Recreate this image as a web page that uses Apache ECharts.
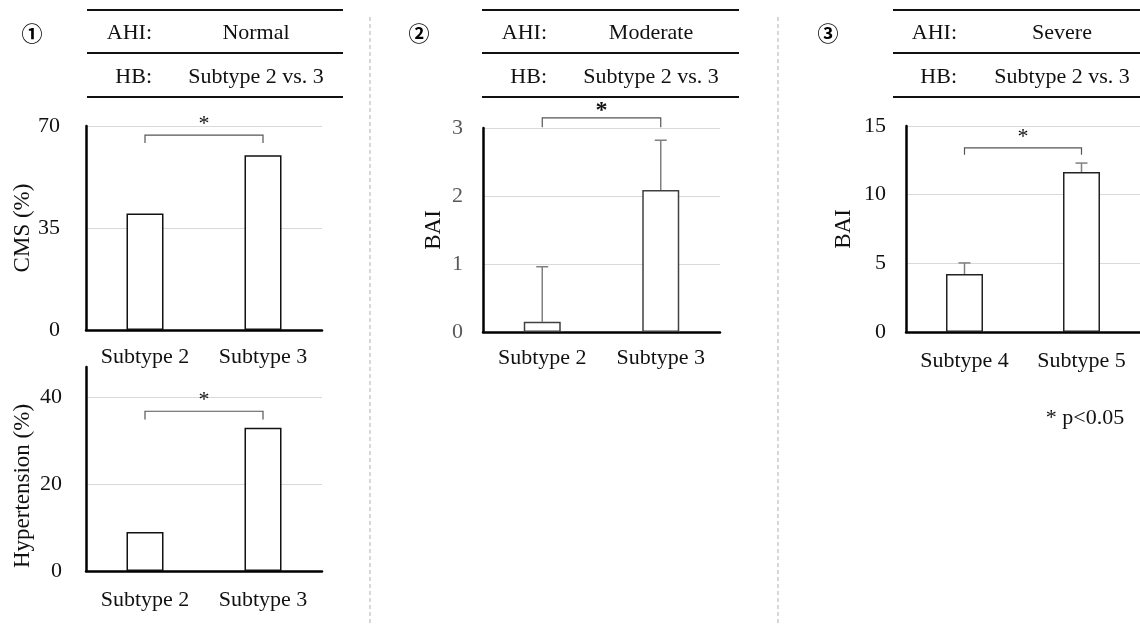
<!DOCTYPE html>
<html>
<head>
<meta charset="utf-8">
<script src="https://cdn.jsdelivr.net/npm/echarts@6/dist/echarts.min.js"></script>
<style>
html,body{margin:0;padding:0;background:#fff;}
#chart{width:1140px;height:626px;}
</style>
</head>
<body>
<div id="chart"></div>
<script>
// ---- data ----
const categoriesNormal = ['Subtype 2', 'Subtype 3'];
const categoriesModerate = ['Subtype 2', 'Subtype 3'];
const categoriesSevere = ['Subtype 4', 'Subtype 5'];

const cmsValues = [40, 60];
const hypertensionValues = [9, 33];
const baiModerateValues = [0.15, 2.09];
const baiModerateErrTop = [0.96, 2.82];
const baiSevereValues = [4.22, 11.65];
const baiSevereErrTop = [5.03, 12.3];

// significance brackets: [level, drop-to level, star level] in data units
const bracketCms = [66.9, 64.2, 70.6];
const bracketHyp = [36.8, 34.9, 39.3];
const bracketModerate = [3.15, 3.01, 3.26];
const bracketSevere = [13.4, 12.9, 14.2];

const panelHeaders = [
  { num: '①', ahi: 'Normal', hb: 'Subtype 2 vs. 3' },
  { num: '②', ahi: 'Moderate', hb: 'Subtype 2 vs. 3' },
  { num: '③', ahi: 'Severe', hb: 'Subtype 2 vs. 3' }
];
const footnote = '* p<0.05';

// ---- styling ----
const SERIF = '"Liberation Serif", "Times New Roman", serif';
const chart = echarts.init(document.getElementById('chart'), null, { renderer: 'canvas' });

function xAxisCfg(gridIndex, cats, margin) {
  return {
    type: 'category', gridIndex: gridIndex, data: cats,
    axisLine: { show: true, lineStyle: { color: '#000', width: 2.5 } },
    axisTick: { show: false },
    axisLabel: { fontFamily: SERIF, fontSize: 22, color: '#111', margin: margin }
  };
}
function yAxisCfg(gridIndex, max, interval, name, nameGap, labelColor, labelMargin, extra) {
  const cfg = {
    type: 'value', gridIndex: gridIndex, min: 0, max: max, interval: interval,
    name: name, nameLocation: 'middle', nameRotate: 90, nameGap: nameGap,
    nameTextStyle: { fontFamily: SERIF, fontSize: 23, color: '#111' },
    axisLine: { show: true, lineStyle: { color: '#000', width: 2.5 } },
    axisTick: { show: false },
    axisLabel: { fontFamily: SERIF, fontSize: 22, color: labelColor, margin: labelMargin },
    splitLine: { show: true, lineStyle: { color: '#d9d9d9', width: 1 } }
  };
  return Object.assign(cfg, extra || {});
}
function barSeries(idx, values, border) {
  return {
    type: 'bar', xAxisIndex: idx, yAxisIndex: idx, data: values, barWidth: 37,
    itemStyle: { color: '#fff', borderColor: border, borderWidth: 1.5 },
    silent: true, animation: false
  };
}
function errorSeries(idx, values, tops) {
  return {
    type: 'custom', xAxisIndex: idx, yAxisIndex: idx, animation: false, silent: true,
    data: values.map((v, i) => [i, v, tops[i]]),
    encode: { x: 0, y: [1, 2] },
    renderItem: function (params, api) {
      const p0 = api.coord([api.value(0), api.value(1)]);
      const p1 = api.coord([api.value(0), api.value(2)]);
      const half = 6;
      return {
        type: 'group', children: [
          { type: 'line', shape: { x1: p0[0], y1: p0[1], x2: p1[0], y2: p1[1] }, style: { stroke: '#808080', lineWidth: 1.5 } },
          { type: 'line', shape: { x1: p1[0] - half, y1: p1[1], x2: p1[0] + half, y2: p1[1] }, style: { stroke: '#808080', lineWidth: 1.5 } }
        ]
      };
    }
  };
}
function bracketSeries(idx, br, starStyle) {
  return {
    type: 'custom', xAxisIndex: idx, yAxisIndex: idx, animation: false, silent: true, clip: false,
    data: [[0, 1, br[0], br[1], br[2]]],
    encode: { x: [0, 1], y: [2, 3, 4] },
    renderItem: function (params, api) {
      const a = api.coord([api.value(0), api.value(2)]);
      const b = api.coord([api.value(1), api.value(2)]);
      const a2 = api.coord([api.value(0), api.value(3)]);
      const b2 = api.coord([api.value(1), api.value(3)]);
      const s = api.coord([api.value(0), api.value(4)]);
      return {
        type: 'group', children: [
          { type: 'polyline', shape: { points: [a2, a, b, b2] }, style: { stroke: '#555', lineWidth: 1.2, fill: null } },
          { type: 'text', x: (a[0] + b[0]) / 2, y: s[1],
            style: Object.assign({ text: '*', align: 'center', verticalAlign: 'middle', fill: '#111', font: '22px ' + SERIF }, starStyle || {}) }
        ]
      };
    }
  };
}

// ---- header graphics ----
const headerLayout = [
  { x1: 87, x2: 343, labelRight: 152, valueCenter: 256, numX: 32 },
  { x1: 482, x2: 739, labelRight: 547, valueCenter: 651, numX: 419 },
  { x1: 893, x2: 1140, labelRight: 957, valueCenter: 1062, numX: 828 }
];
const graphics = [];
panelHeaders.forEach((h, i) => {
  const L = headerLayout[i];
  [10, 53, 97].forEach(y => {
    graphics.push({ type: 'line', shape: { x1: L.x1, y1: y, x2: L.x2, y2: y }, style: { stroke: '#111', lineWidth: 2.2 }, silent: true });
  });
  graphics.push({ type: 'text', x: L.numX, y: 33, style: { text: h.num, align: 'center', verticalAlign: 'middle', font: 'bold 21px "Noto Sans CJK SC", "DejaVu Sans", sans-serif', fill: '#000' } });
  graphics.push({ type: 'text', x: L.labelRight, y: 33, style: { text: 'AHI:', align: 'right', verticalAlign: 'middle', font: '22px ' + SERIF, fill: '#111' } });
  graphics.push({ type: 'text', x: L.valueCenter, y: 33, style: { text: h.ahi, align: 'center', verticalAlign: 'middle', font: '22px ' + SERIF, fill: '#111' } });
  graphics.push({ type: 'text', x: L.labelRight, y: 77, style: { text: 'HB:', align: 'right', verticalAlign: 'middle', font: '22px ' + SERIF, fill: '#111' } });
  graphics.push({ type: 'text', x: L.valueCenter, y: 77, style: { text: h.hb, align: 'center', verticalAlign: 'middle', font: '22px ' + SERIF, fill: '#111' } });
});
[370, 778].forEach(x => {
  graphics.push({ type: 'line', shape: { x1: x, y1: 17, x2: x, y2: 626 }, style: { stroke: '#b0b0b0', lineWidth: 1, lineDash: [4, 3] }, silent: true });
});
graphics.push({ type: 'text', x: 1085, y: 418, style: { text: footnote, align: 'center', verticalAlign: 'middle', font: '22px ' + SERIF, fill: '#111' } });

const option = {
  backgroundColor: '#fff',
  animation: false,
  grid: [
    { left: 86, right: 818, top: 126, bottom: 296 },
    { left: 86, right: 818, top: 367, bottom: 55 },
    { left: 483, right: 420, top: 128, bottom: 294 },
    { left: 906, right: -2, top: 126, bottom: 294 }
  ],
  xAxis: [
    xAxisCfg(0, categoriesNormal, 16),
    xAxisCfg(1, categoriesNormal, 18),
    xAxisCfg(2, categoriesModerate, 15),
    xAxisCfg(3, categoriesSevere, 18)
  ],
  yAxis: [
    yAxisCfg(0, 70, 35, 'CMS (%)', 52, '#111', 26),
    yAxisCfg(1, 47, 20, 'Hypertension (%)', 52, '#111', 24, {
      axisLabel: { fontFamily: SERIF, fontSize: 22, color: '#111', margin: 24, showMaxLabel: false },
      splitLine: { show: true, showMaxLine: false, lineStyle: { color: '#d9d9d9', width: 1 } },
      nameTextStyle: { fontFamily: SERIF, fontSize: 23, color: '#111', padding: [0, 34, 0, 0] }
    }),
    yAxisCfg(2, 3, 1, 'BAI', 38, '#595959', 20),
    yAxisCfg(3, 15, 5, 'BAI', 51, '#111', 20)
  ],
  series: [
    barSeries(0, cmsValues, '#111'),
    barSeries(1, hypertensionValues, '#111'),
    barSeries(2, baiModerateValues, '#404040'),
    barSeries(3, baiSevereValues, '#222'),
    errorSeries(2, baiModerateValues, baiModerateErrTop),
    errorSeries(3, baiSevereValues, baiSevereErrTop),
    bracketSeries(0, bracketCms),
    bracketSeries(1, bracketHyp),
    bracketSeries(2, bracketModerate, { font: 'bold 24px ' + SERIF }),
    bracketSeries(3, bracketSevere)
  ],
  graphic: graphics
};
chart.setOption(option);
</script>
</body>
</html>
